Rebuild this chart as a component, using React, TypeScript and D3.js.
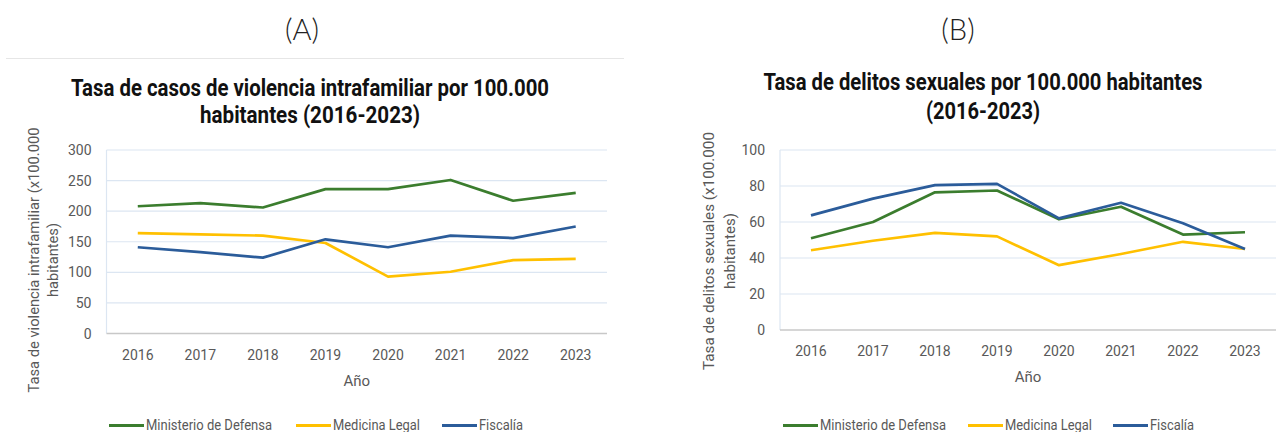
import React from 'react';
import * as d3 from 'd3';

const years = ['2016', '2017', '2018', '2019', '2020', '2021', '2022', '2023'];
const seriesNames = ['Ministerio de Defensa', 'Medicina Legal', 'Fiscalía'];
const seriesColors = ['#3b7d2e', '#ffc000', '#2b5c9a'];

const vifDefensa = [208, 213, 206, 236, 236, 251, 217, 230];
const vifMedicina = [164, 162, 160, 148, 93, 101, 120, 122];
const vifFiscalia = [141, 133, 124, 154, 141, 160, 156, 175];
const vifTicks = [0, 50, 100, 150, 200, 250, 300];

const dsDefensa = [51, 60, 76.5, 77.5, 61.5, 68.5, 53, 54.3];
const dsMedicina = [44.3, 49.6, 54, 52, 36, 42.2, 49, 45];
const dsFiscalia = [63.7, 73, 80.5, 81.2, 62, 70.7, 59.3, 45];
const dsTicks = [0, 20, 40, 60, 80, 100];

const TITLE_FONT = "Roboto, 'Liberation Sans', sans-serif";
const SANS = "Roboto, 'Liberation Sans', Arial, sans-serif";

type ChartProps = {
  panel: string;
  panelX: number;
  title: string[];
  titleX: number;
  titleY: number[];
  titleLen: number[];
  yTitle: string[];
  yTitleX: number[];
  yTitleY: number;
  yTitleLen: number[];
  left: number;
  right: number;
  top: number;
  bottom: number;
  yMax: number;
  ticks: number[];
  series: number[][];
  legendX: number[];
  legendTextLen: number[];
  legendY: number;
  separator?: boolean;
};

function Chart(p: ChartProps) {
  const x = d3.scaleBand<string>().domain(years).range([p.left, p.right]).padding(0);
  const y = d3.scaleLinear().domain([0, p.yMax]).range([p.bottom, p.top]);
  const line = d3
    .line<number>()
    .x((_, i) => (x(years[i]) as number) + x.bandwidth() / 2)
    .y((d) => y(d));
  const cx = (p.left + p.right) / 2;
  return (
    <g>
      <text x={p.panelX} y={28} textAnchor="middle" dominantBaseline="central"
        fontFamily="Lato, 'Open Sans', sans-serif" fontWeight={300} fontSize={29} fill="#222">
        {p.panel}
      </text>
      {p.separator && <line x1={6} x2={624} y1={58.5} y2={58.5} stroke="#e6e6e6" strokeWidth={1} />}
      {p.title.map((t, i) => (
        <text key={i} x={p.titleX} y={p.titleY[i]} textAnchor="middle" dominantBaseline="central"
          fontFamily={TITLE_FONT} fontWeight={700} fontSize={23} fill="#111"
          textLength={p.titleLen[i]} lengthAdjust="spacingAndGlyphs">
          {t}
        </text>
      ))}
      {p.ticks.map((t) => (
        <g key={t}>
          {t > 0 && <line x1={p.left} x2={p.right} y1={y(t)} y2={y(t)} stroke="#dce6f2" strokeWidth={1.2} />}
          <text x={p.left - 15} y={y(t)} textAnchor="end" dominantBaseline="central"
            fontFamily={SANS} fontSize={14} fill="#595959">{t}</text>
        </g>
      ))}
      <line x1={p.left} x2={p.left} y1={p.top} y2={p.bottom} stroke="#dce6f2" strokeWidth={1.2} />
      <line x1={p.left} x2={p.right} y1={p.bottom} y2={p.bottom} stroke="#c8c8c8" strokeWidth={1.3} />
      {years.map((yr) => (
        <text key={yr} x={(x(yr) as number) + x.bandwidth() / 2} y={p.bottom + 21} textAnchor="middle"
          dominantBaseline="central" fontFamily={SANS} fontSize={14} fill="#595959">{yr}</text>
      ))}
      <text x={cx} y={p.bottom + 47} textAnchor="middle" dominantBaseline="central"
        fontFamily={SANS} fontSize={15} fill="#595959">Año</text>
      {p.yTitle.map((t, i) => (
        <text key={i} transform={`translate(${p.yTitleX[i]},${p.yTitleY}) rotate(-90)`} textAnchor="middle"
          dominantBaseline="central" fontFamily={SANS} fontSize={15} fill="#595959"
          textLength={p.yTitleLen[i]} lengthAdjust="spacingAndGlyphs">{t}</text>
      ))}
      {p.series.map((s, i) => (
        <path key={i} d={line(s) || ''} fill="none" stroke={seriesColors[i]} strokeWidth={2.7}
          strokeLinejoin="round" />
      ))}
      {seriesNames.map((n, i) => (
        <g key={n}>
          <line x1={p.legendX[i]} x2={p.legendX[i] + 35} y1={p.legendY + 1} y2={p.legendY + 1}
            stroke={seriesColors[i]} strokeWidth={2.8} />
          <text x={p.legendX[i] + 37} y={p.legendY} dominantBaseline="central" fontFamily={SANS}
            fontSize={15} fill="#595959" textLength={p.legendTextLen[i]} lengthAdjust="spacingAndGlyphs">{n}</text>
        </g>
      ))}
    </g>
  );
}

export default function App() {
  return (
    <svg width={1276} height={432} style={{ position: 'absolute', left: 0, top: 0, background: '#fff' }}>
      <rect width={1276} height={432} fill="#fff" />
      <Chart
        panel="(A)"
        panelX={302}
        separator
        title={['Tasa de casos de violencia intrafamiliar por 100.000', 'habitantes (2016-2023)']}
        titleX={310}
        titleY={[88, 115]}
        titleLen={[478, 220]}
        yTitle={['Tasa de violencia intrafamiliar (x100.000', 'habitantes)']}
        yTitleX={[34, 53]}
        yTitleY={260}
        yTitleLen={[265, 74]}
        left={106.5}
        right={607}
        top={150}
        bottom={333.5}
        yMax={300}
        ticks={vifTicks}
        series={[vifDefensa, vifMedicina, vifFiscalia]}
        legendX={[109, 296, 442]}
        legendTextLen={[126, 87, 44]}
        legendY={424.5}
      />
      <Chart
        panel="(B)"
        panelX={958}
        title={['Tasa de delitos sexuales por 100.000 habitantes', '(2016-2023)']}
        titleX={983}
        titleY={[82, 111]}
        titleLen={[439, 114]}
        yTitle={['Tasa de delitos sexuales (x100.000', 'habitantes)']}
        yTitleX={[709, 730]}
        yTitleY={251}
        yTitleLen={[238, 76]}
        left={780}
        right={1276}
        top={150}
        bottom={330}
        yMax={100}
        ticks={dsTicks}
        series={[dsDefensa, dsMedicina, dsFiscalia]}
        legendX={[783, 968, 1113]}
        legendTextLen={[126, 87, 44]}
        legendY={424.5}
      />
    </svg>
  );
}
